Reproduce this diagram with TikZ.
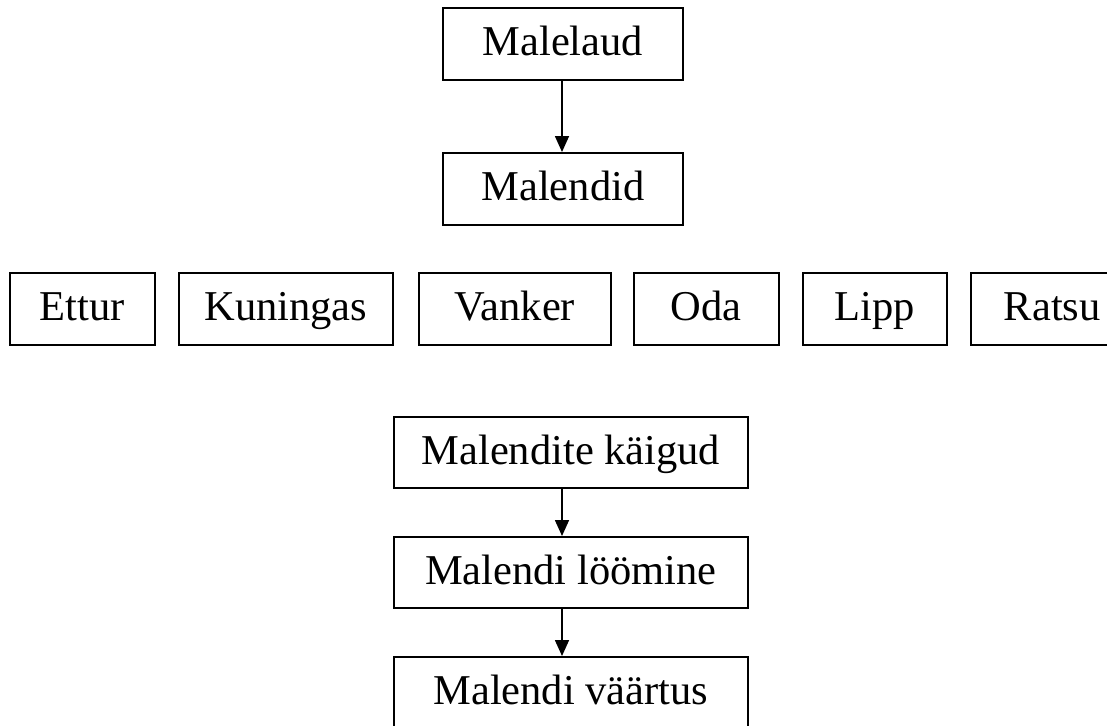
\documentclass[tikz,border=0pt]{standalone}
\usepackage{fontspec}
\setmainfont{Liberation Serif}
\usetikzlibrary{arrows.meta}
\begin{document}
\begin{tikzpicture}[x=1pt,y=-1pt,
  box/.style={draw=black, line width=1.7pt, inner sep=0pt, minimum height=72pt,
    text height=33pt, text depth=9pt,
    font=\fontsize{42.5}{48}\selectfont, anchor=north west},
  link/.style={line width=1.7pt, -{Triangle[length=16pt,width=14pt]}}]
\useasboundingbox (0,0) rectangle (1107,725);
\clip (0,0) rectangle (1107,725);
\fill[white] (0,0) rectangle (1107,725);
% upper chain
\node[box, minimum width=240pt] (laud) at (442,7) {Malelaud};
\node[box, minimum width=240pt] (malendid) at (442,152) {Malendid};
% row of pieces
\node[box, minimum width=145pt] (ettur) at (9,272) {Ettur};
\node[box, minimum width=214pt] (kuningas) at (178,272) {Kuningas};
\node[box, minimum width=192pt] (vanker) at (418,272) {Vanker};
\node[box, minimum width=145pt] (oda) at (633,272) {Oda};
\node[box, minimum width=144pt] (lipp) at (802,272) {Lipp};
\node[box, minimum width=163pt] (ratsu) at (970,272) {Ratsu};
% lower chain
\node[box, minimum width=354pt, minimum height=71pt] (kaigud) at (393,416) {Malendite käigud};
\node[box, minimum width=354pt, minimum height=71pt] (loomine) at (393,536) {Malendi löömine};
\node[box, minimum width=354pt, minimum height=71pt] (vaartus) at (393,656) {Malendi väärtus};
% connectors
\draw[link] (laud.south -| 562,0) -- (malendid.north -| 562,0);
\draw[link] (kaigud.south -| 562,0) -- (loomine.north -| 562,0);
\draw[link] (loomine.south -| 562,0) -- (vaartus.north -| 562,0);
\end{tikzpicture}
\end{document}
